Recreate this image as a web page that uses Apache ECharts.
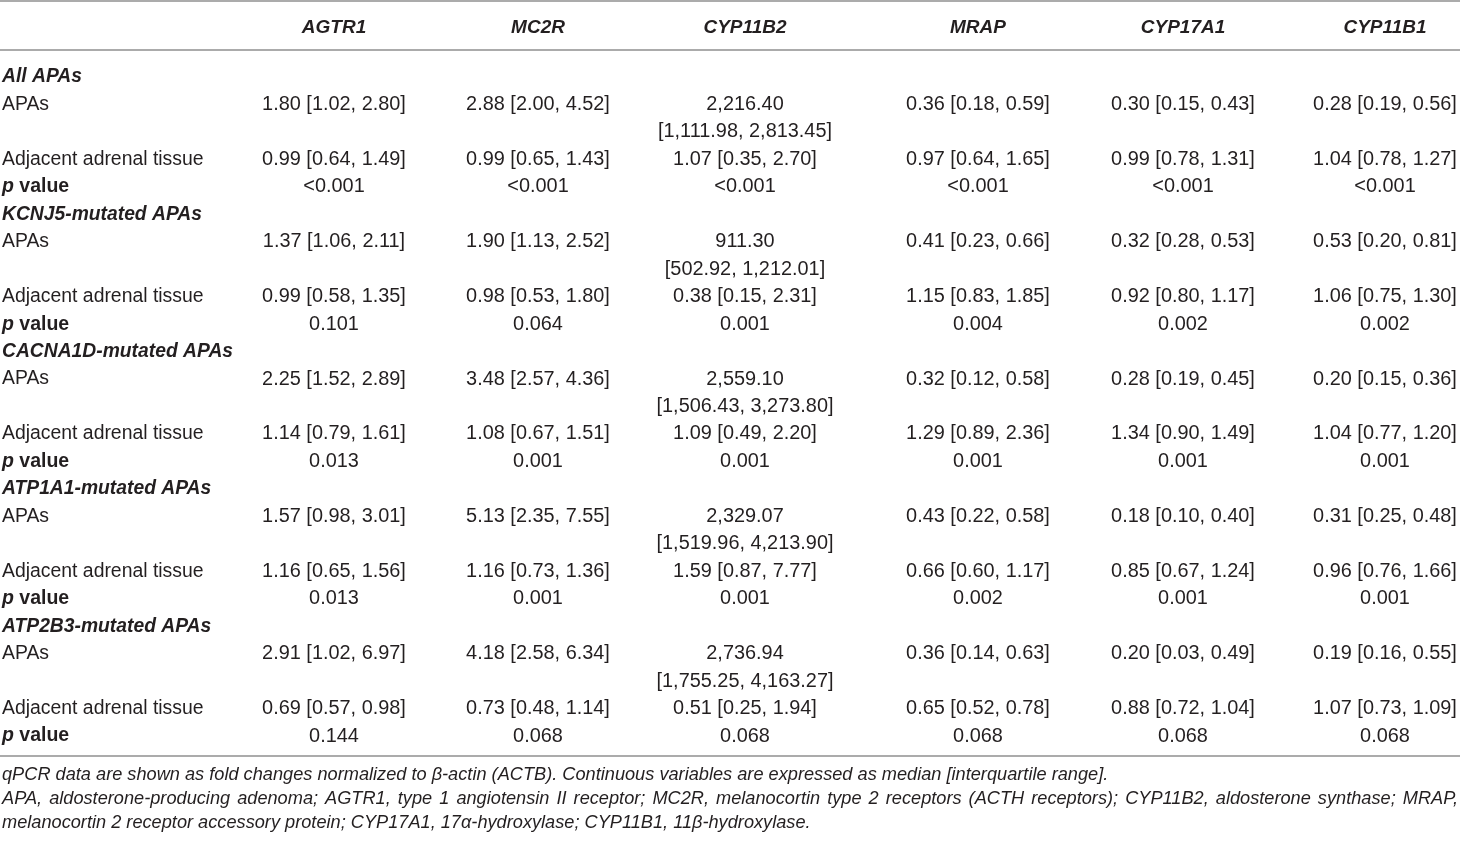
<!DOCTYPE html>
<html lang="en">
    <head>
        <meta charset="UTF-8" />
        <title>qPCR fold changes table</title>
        <script src="https://cdn.jsdelivr.net/npm/echarts@6/dist/echarts.min.js"></script>
        <style>
            * {
                margin: 0;
                padding: 0;
            }
            body {
                background: #fff;
                overflow: hidden;
            }
            #container {
                width: 1460px;
                height: 842px;
            }
        </style>
    </head>
    <body>
        <div id="container"></div>
        <script type="text/javascript">
            // table content
            const genes = ['AGTR1', 'MC2R', 'CYP11B2', 'MRAP', 'CYP17A1', 'CYP11B1'];
            const groupNames = [
                'All APAs',
                'KCNJ5-mutated APAs',
                'CACNA1D-mutated APAs',
                'ATP1A1-mutated APAs',
                'ATP2B3-mutated APAs',
            ];
            const rowLabels = ['APAs', 'Adjacent adrenal tissue', 'p value'];
            const apaValues = [
                ['1.80 [1.02, 2.80]', '2.88 [2.00, 4.52]', '2,216.40 [1,111.98, 2,813.45]', '0.36 [0.18, 0.59]', '0.30 [0.15, 0.43]', '0.28 [0.19, 0.56]'],
                ['1.37 [1.06, 2.11]', '1.90 [1.13, 2.52]', '911.30 [502.92, 1,212.01]', '0.41 [0.23, 0.66]', '0.32 [0.28, 0.53]', '0.53 [0.20, 0.81]'],
                ['2.25 [1.52, 2.89]', '3.48 [2.57, 4.36]', '2,559.10 [1,506.43, 3,273.80]', '0.32 [0.12, 0.58]', '0.28 [0.19, 0.45]', '0.20 [0.15, 0.36]'],
                ['1.57 [0.98, 3.01]', '5.13 [2.35, 7.55]', '2,329.07 [1,519.96, 4,213.90]', '0.43 [0.22, 0.58]', '0.18 [0.10, 0.40]', '0.31 [0.25, 0.48]'],
                ['2.91 [1.02, 6.97]', '4.18 [2.58, 6.34]', '2,736.94 [1,755.25, 4,163.27]', '0.36 [0.14, 0.63]', '0.20 [0.03, 0.49]', '0.19 [0.16, 0.55]'],
            ];
            const adjacentValues = [
                ['0.99 [0.64, 1.49]', '0.99 [0.65, 1.43]', '1.07 [0.35, 2.70]', '0.97 [0.64, 1.65]', '0.99 [0.78, 1.31]', '1.04 [0.78, 1.27]'],
                ['0.99 [0.58, 1.35]', '0.98 [0.53, 1.80]', '0.38 [0.15, 2.31]', '1.15 [0.83, 1.85]', '0.92 [0.80, 1.17]', '1.06 [0.75, 1.30]'],
                ['1.14 [0.79, 1.61]', '1.08 [0.67, 1.51]', '1.09 [0.49, 2.20]', '1.29 [0.89, 2.36]', '1.34 [0.90, 1.49]', '1.04 [0.77, 1.20]'],
                ['1.16 [0.65, 1.56]', '1.16 [0.73, 1.36]', '1.59 [0.87, 7.77]', '0.66 [0.60, 1.17]', '0.85 [0.67, 1.24]', '0.96 [0.76, 1.66]'],
                ['0.69 [0.57, 0.98]', '0.73 [0.48, 1.14]', '0.51 [0.25, 1.94]', '0.65 [0.52, 0.78]', '0.88 [0.72, 1.04]', '1.07 [0.73, 1.09]'],
            ];
            const pValues = [
                ['<0.001', '<0.001', '<0.001', '<0.001', '<0.001', '<0.001'],
                ['0.101', '0.064', '0.001', '0.004', '0.002', '0.002'],
                ['0.013', '0.001', '0.001', '0.001', '0.001', '0.001'],
                ['0.013', '0.001', '0.001', '0.002', '0.001', '0.001'],
                ['0.144', '0.068', '0.068', '0.068', '0.068', '0.068'],
            ];
            const notes = [
                'qPCR data are shown as fold changes normalized to β-actin (ACTB). Continuous variables are expressed as median [interquartile range].',
                'APA, aldosterone-producing adenoma; AGTR1, type 1 angiotensin II receptor; MC2R, melanocortin type 2 receptors (ACTH receptors); CYP11B2, aldosterone synthase; MRAP,',
                'melanocortin 2 receptor accessory protein; CYP17A1, 17α-hydroxylase; CYP11B1, 11β-hydroxylase.',
            ];
            const justifiedNotes = [false, true, false];

            // layout (axis units = pixels)
            const W = 1460, H = 842;
            const labelX = 2;
            const rightX = 1458;
            const colCenters = [334, 538, 745, 978, 1183, 1385];
            const headerY = 28;
            const bodyTop = 77;
            const lineH = 27.46;
            const rules = [1, 50, 756];
            const noteTop = 775;
            const noteH = 24;

            const font = "'Liberation Sans', Arial, Helvetica, sans-serif";
            const ink = '#231f20';
            const styles = {
                head: { fontSize: 19, fontWeight: 'bold', fontStyle: 'italic' },
                group: { fontSize: 19.3, fontWeight: 'bold', fontStyle: 'italic' },
                label: { fontSize: 19.4 },
                cell: { fontSize: 19.9 },
                note: { fontSize: 18.2, fontStyle: 'italic' },
            };

            const measure = document.createElement('canvas').getContext('2d');
            measure.font = 'italic ' + styles.note.fontSize + 'px ' + font;

            const cells = [];
            genes.forEach(function (g, c) {
                cells.push({ x: colCenters[c], y: headerY, text: g, kind: 'head', align: 'center' });
            });

            const splitCell = function (v) {
                // long cells wrap before the bracket
                return v.length > 20 ? [v.slice(0, v.indexOf(' [')), v.slice(v.indexOf(' [') + 1)] : [v];
            };

            let line = 0;
            groupNames.forEach(function (name, gi) {
                cells.push({ x: labelX, y: bodyTop + line * lineH, text: name, kind: 'group', align: 'left' });
                line++;
                [apaValues[gi], adjacentValues[gi], pValues[gi]].forEach(function (vals, ri) {
                    const y0 = bodyTop + line * lineH;
                    const labelText = ri === 2 ? '{pi|p} {pb|value}' : rowLabels[ri];
                    cells.push({ x: labelX, y: y0, text: labelText, kind: 'label', align: 'left' });
                    let n = 1;
                    vals.forEach(function (v, c) {
                        const parts = splitCell(v);
                        parts.forEach(function (t, k) {
                            cells.push({ x: colCenters[c], y: y0 + k * lineH, text: t, kind: 'cell', align: 'center' });
                        });
                        n = Math.max(n, parts.length);
                    });
                    line += n;
                });
            });

            notes.forEach(function (t, i) {
                const y = noteTop + i * noteH;
                if (!justifiedNotes[i]) {
                    cells.push({ x: labelX, y: y, text: t, kind: 'note', align: 'left' });
                    return;
                }
                // justified line: spread the words across the full width
                const words = t.split(' ');
                const widths = words.map(function (w) {
                    return measure.measureText(w).width;
                });
                const total = widths.reduce(function (a, b) {
                    return a + b;
                }, 0);
                const gap = (rightX - labelX - total) / (words.length - 1);
                let x = labelX;
                words.forEach(function (w, k) {
                    cells.push({ x: x, y: y, text: w, kind: 'note', align: 'left' });
                    x += widths[k] + gap;
                });
            });

            const chart = echarts.init(document.getElementById('container'));
            const option = {
                animation: false,
                grid: { left: 0, right: 0, top: 0, bottom: 0 },
                xAxis: { type: 'value', min: 0, max: W, show: false },
                yAxis: { type: 'value', min: 0, max: H, inverse: true, show: false },
                series: [
                    {
                        type: 'custom',
                        silent: true,
                        data: rules.map(function (y) {
                            return [0, y];
                        }),
                        renderItem: function (params, api) {
                            const a = api.coord([0, api.value(1)]);
                            const b = api.coord([W, api.value(1)]);
                            return {
                                type: 'line',
                                shape: { x1: a[0], y1: a[1], x2: b[0], y2: b[1] },
                                style: { stroke: '#8f8f8f', lineWidth: 1.6 },
                            };
                        },
                    },
                    {
                        type: 'custom',
                        silent: true,
                        data: cells.map(function (d) {
                            return [d.x, d.y];
                        }),
                        renderItem: function (params, api) {
                            const d = cells[params.dataIndex];
                            const p = api.coord([api.value(0), api.value(1)]);
                            const s = styles[d.kind];
                            return {
                                type: 'text',
                                x: p[0],
                                y: p[1],
                                style: {
                                    text: d.text,
                                    fill: ink,
                                    fontFamily: font,
                                    fontSize: s.fontSize,
                                    fontWeight: s.fontWeight || 'normal',
                                    fontStyle: s.fontStyle || 'normal',
                                    align: d.align,
                                    verticalAlign: 'middle',
                                    rich: {
                                        pi: { fontFamily: font, fontSize: 19.5, fontWeight: 'bold', fontStyle: 'italic', fill: ink },
                                        pb: { fontFamily: font, fontSize: 19.5, fontWeight: 'bold', fill: ink },
                                    },
                                },
                            };
                        },
                    },
                ],
            };
            option && chart.setOption(option);
        </script>
    </body>
</html>
